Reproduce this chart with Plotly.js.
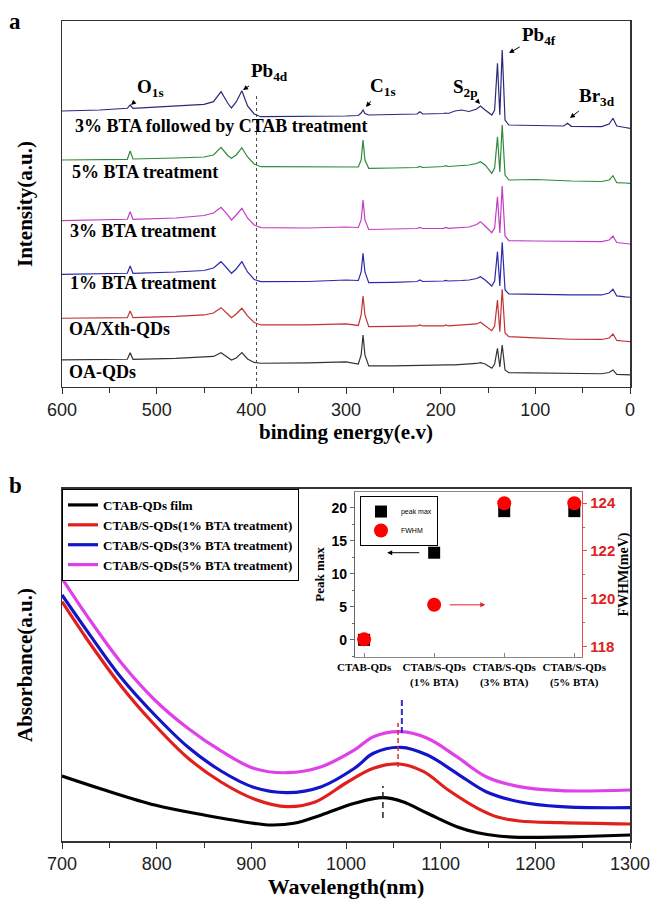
<!DOCTYPE html>
<html>
<head>
<meta charset="utf-8">
<script src="https://cdn.plot.ly/plotly-3.0.1.min.js"></script>
<style>html,body{margin:0;padding:0;background:#fff;}#chart{width:651px;height:899px;}</style>
</head>
<body>
<div id="chart"></div>
<script>
// ---------- Panel a : XPS survey spectra ----------
const xpsEnergy = [600,560,531,528,525,480,450,440,432,425,421,416,410,404,397,390,340,300,287,284,282,280,276,250,225,222,219,197,194.5,192,185,178,170,162,158,153,146,143,140,137.5,135,132,128,100,70,66,62,30,22,18,14,5,0];
const xpsCtab3 = [276,277,278.7,282,278.7,281,282.7,285.3,295.3,284,279,285,296.3,281,273,270.3,270.5,271,271.5,274,277,273.5,272,272.5,273,275.3,273,273.5,274,273.5,276,277,275.5,278,281,277,272,277,323.7,272,337,267,262,261.5,261,263.7,260.7,260.3,263,268.7,261,259.5,258.7];
const xpsBta5 = [227,227.5,227.7,236,228,229,230,232,239.7,231.5,228.7,232,239.3,230,223,220.3,220.3,220.5,220,227,247,227,218.7,219,219.5,220.5,219.5,220.5,221.3,220.5,221,221.5,222,223.5,225.3,222,213.7,219,250.3,215,262,212,207,207.5,206,206,206,205.5,207,211.3,204.3,204,203.7];
const xpsBta3 = [166.3,167,167.7,175.3,167.7,169,171.5,174,179.7,172,167,172,178.7,169,162,159.3,159,160,159.5,167,187,167,157.5,158,158.5,159.5,158.5,158.7,159.5,158.7,159,159.5,160,162.5,165.3,161,154.3,159,190.3,154,201,151,146.3,146,145.5,145.5,145.3,145.3,147,151,144.5,143.5,143];
const xpsBta1 = [112.7,113.3,113.7,121,113.7,115,116.5,119,125.3,118,113.7,118,125.3,115,107.5,105.3,105.5,107,106.5,115,133.7,115,104.3,104.7,105.5,107,105.5,106,106.5,106,106,106.5,107,108.5,110.3,107,101,106,135.3,101,144.7,97,93,92.5,92.3,92.3,92,92,94,97.7,91,90,89.7];
const xpsOaXth = [68.7,69,69.3,76,69.3,70.5,72,74,79.3,73,69.3,73,78.7,71,64.5,62,62,63,61.5,72,91,72,60.3,60.5,61,62,61,61,62,61,61.5,61.7,62,63,64.7,61.5,56.3,61,87,55.3,97.7,54,50.3,49,48,47.7,47.7,47.5,49,53,46.5,45.7,45.3];
const xpsOa = [27,27.5,27.7,34.3,27.7,28.5,29.5,30.5,34.3,29.5,27,29,34.3,28,24.5,23.7,24,25,23,32,52,32,21,21,21.5,22,21.5,22,22.7,22,22,22.3,22.5,23.5,24.3,23,18.7,23,38.7,20,42,17,14.3,14,13.7,13.7,13.5,13.2,14.5,17,12.5,12,12];
const xpsLabels = ['3% BTA followed by CTAB treatment','5% BTA treatment','3% BTA treatment','1% BTA treatment','OA/Xth-QDs','OA-QDs'];
const peakLabels = ['O<sub>1s</sub>','Pb<sub>4d</sub>','C<sub>1s</sub>','S<sub>2p</sub>','Pb<sub>4f</sub>','Br<sub>3d</sub>'];
const xpsTicks = [600,500,400,300,200,100,0];
const xpsRefLine = 394.5;

// ---------- Panel b : absorbance ----------
const wlBlack = [700,745,798,850,903,921,945,974,1009,1039,1060,1086,1117,1139,1161,1183,1205,1250,1300];
const absBlack = [65,51,36,26,17.7,16,17.7,26,37.7,43.3,39.3,27.7,14.3,8.3,5,3.7,3.7,4.5,6];
const wlRed = [700,727,763,798,833,868,903,938,968,1000,1029,1056,1082,1108,1139,1161,1183,1227,1300];
const absRed = [239.3,201,154.3,116,83,59,42,34.3,39.3,58,72.7,77,69.3,51,32.7,23.7,20,18.3,17];
const wlBlue = [700,727,763,798,833,868,903,938,974,1009,1029,1058,1086,1117,1148,1183,1227,1300];
const absBlue = [246,209.3,162.7,126,94,70,53.5,48.3,54.3,72.7,87.7,93.7,86,67.7,49.3,39.3,34.3,33.3];
const wlMagenta = [700,727,763,798,833,868,903,938,974,1009,1029,1058,1086,1117,1148,1183,1227,1300];
const absMagenta = [262.7,224.3,177.7,141,112.7,90,72.5,68.3,74.3,91,104.3,109.3,102.7,84.3,64.3,54.3,50.3,51];
const absNames = ['CTAB-QDs film','CTAB/S-QDs(1% BTA treatment)','CTAB/S-QDs(3% BTA treatment)','CTAB/S-QDs(5% BTA treatment)'];
const wlTicks = [700,800,900,1000,1100,1200,1300];
const peakBlackWl = 1039, peakRedWl = 1055, peakBlueWl = 1059;

// ---------- Inset ----------
const insetCats = ['CTAB-QDs','CTAB/S-QDs<br>(1% BTA)','CTAB/S-QDs<br>(3% BTA)','CTAB/S-QDs<br>(5% BTA)'];
const peakMax = [0, 13.2, 19.5, 19.5];
const fwhm = [118.3, 119.75, 124, 124];
const insetNames = ['peak max','FWHM'];

const serif = 'Liberation Serif, Times New Roman, serif';
const sans = 'Liberation Sans, Arial, sans-serif';

const xpsSeries = [xpsCtab3, xpsBta5, xpsBta3, xpsBta1, xpsOaXth, xpsOa];
const xpsColors = ['#2a2a7c','#2f8a3a','#c43cc4','#2a2aaa','#c23232','#333333'];
const traces = [];
xpsSeries.forEach((s, i) => {
  traces.push({x: xpsEnergy, y: s, xaxis: 'x', yaxis: 'y', mode: 'lines', showlegend: false,
    line: {color: xpsColors[i], width: 1.2}, hoverinfo: 'skip'});
});

const absSeries = [[wlBlack, absBlack], [wlRed, absRed], [wlBlue, absBlue], [wlMagenta, absMagenta]];
const absColors = ['#000000','#e0201c','#1414c8','#e040e8'];
absSeries.forEach((s, i) => {
  traces.push({x: s[0], y: s[1], xaxis: 'x2', yaxis: 'y2', mode: 'lines', name: absNames[i],
    line: {color: absColors[i], width: 3.2, shape: 'spline', smoothing: 1}, legend: 'legend'});
});

const insetX = insetCats.map((c, i) => i);
traces.push({x: insetX, y: peakMax, xaxis: 'x3', yaxis: 'y3', mode: 'markers', name: insetNames[0],
  marker: {symbol: 'square', size: 12, color: '#000'}, legend: 'legend2'});
traces.push({x: insetX, y: fwhm, xaxis: 'x3', yaxis: 'y4', mode: 'markers', name: insetNames[1],
  marker: {symbol: 'circle', size: 14, color: '#ff0000'}, legend: 'legend2'});

const titleFont = (s) => ({family: serif, size: s, color: '#000', weight: 'bold'});

// annotation positions (data coordinates of panel a)
const seriesLabelPos = [[588.4,261],[591.5,215],[593.7,156.3],[593.7,104.3],[594.7,58],[594.7,15.3]];
const peakLabelCenter = [[507,299],[380.3,315],[260.9,300],[173.3,299],[96.1,351],[34.9,290]];
const peakArrowHead = [[527.1,282],[408.8,297],[278.9,280],[158.5,283],[127.8,334],[63.4,269]];

const annotations = [];
xpsLabels.forEach((t, i) => annotations.push({xref:'x', yref:'y', x: seriesLabelPos[i][0], y: seriesLabelPos[i][1],
  text: t, showarrow: false, xanchor: 'left', yanchor: 'middle', font: titleFont(18)}));
peakLabels.forEach((t, i) => {
  annotations.push({xref:'x', yref:'y', axref:'x', ayref:'y',
    x: peakArrowHead[i][0], y: peakArrowHead[i][1], ax: peakLabelCenter[i][0], ay: peakLabelCenter[i][1],
    text: t, showarrow: true, arrowhead: 2, arrowsize: 1, arrowwidth: 1, arrowcolor: '#000',
    standoff: 0, startstandoff: 1, font: titleFont(19)});
});
annotations.push({xref:'paper', yref:'paper', x:-0.0827, y:0.9988, xanchor:'center', yanchor:'middle',
  text:'a', showarrow:false, font: titleFont(23)});
annotations.push({xref:'paper', yref:'paper', x:-0.0827, y:0.4341, xanchor:'center', yanchor:'middle',
  text:'b', showarrow:false, font: titleFont(23)});
annotations.push({xref:'x3', yref:'y3', axref:'x3', ayref:'y3', x:0.33, y:13.2, ax:0.81, ay:13.2, text:'',
  showarrow:true, arrowhead:2, arrowsize:1, arrowwidth:1, arrowcolor:'#000', standoff:0});
annotations.push({xref:'x3', yref:'y3', axref:'x3', ayref:'y3', x:1.73, y:5.3, ax:1.2, ay:5.3, text:'',
  showarrow:true, arrowhead:2, arrowsize:1, arrowwidth:1, arrowcolor:'#e02020', standoff:0});

const shapes = [
  {type:'line', xref:'x', yref:'y', x0:xpsRefLine, x1:xpsRefLine, y0:0, y1:294, line:{color:'#444', width:1, dash:'dot'}},
  {type:'line', xref:'x2', yref:'y2', x0:peakBlackWl, x1:peakBlackWl, y0:23, y1:55, line:{color:'#222', width:1.5, dash:'6px,4px'}},
  {type:'line', xref:'x2', yref:'y2', x0:peakRedWl, x1:peakRedWl, y0:74, y1:118, line:{color:'#d03030', width:1.5, dash:'5px,3px'}},
  {type:'line', xref:'x2', yref:'y2', x0:peakBlueWl, x1:peakBlueWl, y0:108, y1:143, line:{color:'#3030c8', width:2, dash:'6px,3px'}}
];

const boxAxis = {showline:true, mirror:true, linecolor:'#333', linewidth:1.5, showgrid:false, zeroline:false};

const layout = {
  width:651, height:899,
  margin:{l:62, r:21, t:21, b:58},
  paper_bgcolor:'#fff', plot_bgcolor:'#fff',
  showlegend:true,
  xaxis: Object.assign({}, boxAxis, {domain:[0,1], anchor:'y', range:[600,0], tickvals:xpsTicks,
    ticks:'outside', ticklen:6, tickcolor:'#333', minor:{dtick:50, ticks:'outside', ticklen:5, tickcolor:'#333'},
    tickfont:{family:sans, size:18, color:'#222'},
    title:{text:'binding energy(e.v)', font:titleFont(21), standoff:2}}),
  yaxis: Object.assign({}, boxAxis, {domain:[0.5537,1], anchor:'x', range:[0,366], showticklabels:false, ticks:'',
    title:{text:'Intensity(a.u.)', font:titleFont(21), standoff:22}}),
  xaxis2: Object.assign({}, boxAxis, {domain:[0,1], anchor:'y2', range:[700,1300], tickvals:wlTicks,
    ticks:'outside', ticklen:6, tickcolor:'#333', minor:{dtick:50, ticks:'outside', ticklen:5, tickcolor:'#333'},
    tickfont:{family:sans, size:18, color:'#222'},
    title:{text:'Wavelength(nm)', font:titleFont(22), standoff:8}}),
  yaxis2: Object.assign({}, boxAxis, {domain:[0,0.4293], anchor:'x2', range:[0,352], showticklabels:false, ticks:'',
    title:{text:'Absorbance(a.u.)', font:titleFont(21), standoff:22}}),
  xaxis3: {domain:[0.5158,0.9155], anchor:'y3', range:[-0.13,3.11], tickvals:insetX, ticktext:insetCats,
    showline:true, mirror:true, linecolor:'#888', linewidth:1.2, showgrid:false, zeroline:false,
    ticks:'inside', ticklen:4, tickcolor:'#888', tickfont:{family:serif, size:11, color:'#000', weight:'bold'}},
  yaxis3: {domain:[0.2244,0.4256], anchor:'x3', range:[-2.6,22.4], dtick:5, tick0:0, showline:true, linecolor:'#666',
    linewidth:1.2, showgrid:false, zeroline:false, ticks:'outside', ticklen:4, tickcolor:'#666',
    minor:{dtick:2.5, ticks:'outside', ticklen:2, tickcolor:'#666'},
    tickfont:{family:sans, size:14, color:'#000', weight:'bold'},
    title:{text:'Peak max', font:titleFont(13), standoff:3}},
  yaxis4: {overlaying:'y3', side:'right', anchor:'x3', range:[117.56,124.47], dtick:2, tick0:118,
    showline:true, linecolor:'#e05050', linewidth:1.2, showgrid:false, zeroline:false, ticks:'outside', ticklen:4,
    tickcolor:'#e05050', minor:{dtick:1, ticks:'outside', ticklen:2, tickcolor:'#e05050'},
    tickfont:{family:sans, size:15, color:'#e02020', weight:'bold'},
    title:{text:'FWHM(meV)', font:titleFont(14), standoff:3}},
  legend: {x:0, y:0.4293, xanchor:'left', yanchor:'top', bgcolor:'#fff', bordercolor:'#000', borderwidth:1,
    font:{family:serif, size:13, color:'#000', weight:'bold'}, itemwidth:30, tracegroupgap:0},
  legend2: {x:0.5246, y:0.4207, xanchor:'left', yanchor:'top', bgcolor:'#fff', bordercolor:'#000', borderwidth:1,
    font:{family:sans, size:7, color:'#000'}, itemwidth:30, tracegroupgap:0},
  annotations: annotations,
  shapes: shapes
};

Plotly.newPlot('chart', traces, layout, {displayModeBar:false, staticPlot:true});
</script>
</body>
</html>
